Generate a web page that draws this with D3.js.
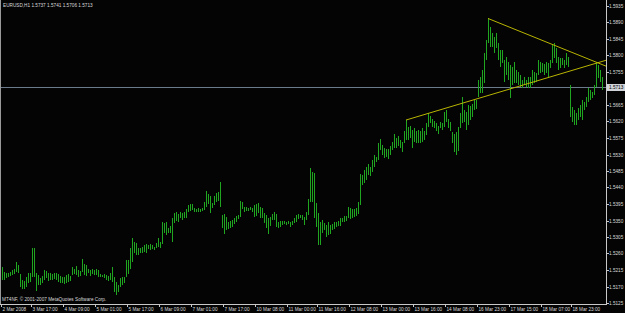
<!DOCTYPE html>
<html>
<head>
<meta charset="utf-8">
<script src="https://cdn.jsdelivr.net/npm/d3@7"></script>
<style>
  html, body { margin: 0; padding: 0; background: #000; }
  svg { display: block; }
  text { font-family: "Liberation Sans", Arial, sans-serif; font-size: 4.7px; fill: #d8d8d8; }
</style>
</head>
<body>
<div id="chart"></div>
<script>
'use strict';

// hourly bars (high / low per bar)
var barHigh = [
  1.5224,1.5210,1.5206,1.5207,1.5210,1.5215,1.5219,1.5237,1.5228,1.5204,
  1.5189,1.5185,1.5195,1.5206,1.5207,1.5274,1.5274,1.5206,1.5201,1.5192,
  1.5198,1.5215,1.5213,1.5206,1.5207,1.5204,1.5206,1.5207,1.5204,1.5198,
  1.5195,1.5196,1.5201,1.5204,1.5198,1.5224,1.5219,1.5226,1.5215,1.5213,
  1.5246,1.5231,1.5228,1.5219,1.5215,1.5219,1.5215,1.5219,1.5215,1.5204,
  1.5201,1.5204,1.5201,1.5198,1.5206,1.5224,1.5196,1.5183,1.5174,1.5192,
  1.5196,1.5196,1.5242,1.5242,1.5274,1.5301,1.5292,1.5289,1.5274,1.5274,
  1.5278,1.5283,1.5287,1.5283,1.5286,1.5283,1.5278,1.5288,1.5302,1.5291,
  1.5345,1.5342,1.5347,1.5330,1.5334,1.5358,1.5370,1.5372,1.5367,1.5374,
  1.5370,1.5374,1.5381,1.5392,1.5394,1.5394,1.5383,1.5381,1.5383,1.5381,
  1.5385,1.5401,1.5430,1.5421,1.5418,1.5399,1.5417,1.5424,1.5427,1.5454,
  1.5365,1.5367,1.5360,1.5345,1.5349,1.5351,1.5356,1.5363,1.5365,1.5403,
  1.5401,1.5387,1.5387,1.5385,1.5387,1.5385,1.5392,1.5394,1.5399,1.5387,
  1.5383,1.5370,1.5365,1.5356,1.5360,1.5367,1.5374,1.5367,1.5347,1.5349,
  1.5349,1.5349,1.5347,1.5349,1.5345,1.5349,1.5358,1.5365,1.5367,1.5365,
  1.5365,1.5360,1.5374,1.5408,1.5492,1.5483,1.5479,1.5397,1.5370,1.5347,
  1.5351,1.5342,1.5337,1.5347,1.5337,1.5340,1.5345,1.5345,1.5349,1.5356,
  1.5358,1.5363,1.5362,1.5387,1.5383,1.5381,1.5381,1.5383,1.5401,1.5476,
  1.5474,1.5488,1.5497,1.5503,1.5497,1.5515,1.5528,1.5524,1.5560,1.5572,
  1.5556,1.5549,1.5545,1.5545,1.5553,1.5565,1.5585,1.5574,1.5581,1.5570,
  1.5565,1.5594,1.5624,1.5606,1.5608,1.5597,1.5601,1.5594,1.5597,1.5594,
  1.5601,1.5594,1.5615,1.5642,1.5635,1.5628,1.5622,1.5615,1.5608,1.5619,
  1.5615,1.5646,1.5651,1.5628,1.5619,1.5592,1.5585,1.5590,1.5606,1.5642,
  1.5686,1.5651,1.5646,1.5665,1.5662,1.5669,1.5678,1.5678,1.5733,1.5742,
  1.5760,1.5806,1.5842,1.5901,1.5879,1.5860,1.5851,1.5860,1.5833,1.5815,
  1.5815,1.5788,1.5797,1.5783,1.5774,1.5769,1.5783,1.5760,1.5756,1.5747,
  1.5733,1.5742,1.5733,1.5742,1.5740,1.5760,1.5756,1.5751,1.5788,1.5783,
  1.5780,1.5776,1.5783,1.5780,1.5788,1.5829,1.5833,1.5820,1.5797,1.5792,
  1.5792,1.5788,1.5806,1.5797,1.5720,1.5660,1.5651,1.5642,1.5656,1.5665,
  1.5678,1.5674,1.5686,1.5710,1.5706,1.5701,1.5720,1.5783,1.5774,1.5760,
  1.5741
];
var barLow = [
  1.5187,1.5187,1.5192,1.5195,1.5198,1.5201,1.5204,1.5210,1.5207,1.5168,
  1.5162,1.5162,1.5168,1.5180,1.5183,1.5195,1.5197,1.5159,1.5174,1.5174,
  1.5180,1.5187,1.5192,1.5186,1.5189,1.5187,1.5191,1.5189,1.5183,1.5180,
  1.5180,1.5178,1.5180,1.5183,1.5186,1.5201,1.5204,1.5201,1.5196,1.5198,
  1.5210,1.5201,1.5198,1.5206,1.5198,1.5204,1.5200,1.5201,1.5196,1.5195,
  1.5195,1.5192,1.5189,1.5186,1.5187,1.5183,1.5156,1.5146,1.5156,1.5168,
  1.5174,1.5180,1.5196,1.5204,1.5219,1.5237,1.5260,1.5256,1.5256,1.5260,
  1.5262,1.5265,1.5262,1.5271,1.5269,1.5271,1.5269,1.5274,1.5278,1.5275,
  1.5285,1.5315,1.5310,1.5315,1.5315,1.5291,1.5342,1.5349,1.5347,1.5356,
  1.5351,1.5358,1.5356,1.5374,1.5376,1.5378,1.5374,1.5372,1.5372,1.5372,
  1.5376,1.5378,1.5387,1.5394,1.5370,1.5385,1.5392,1.5401,1.5403,1.5387,
  1.5329,1.5312,1.5324,1.5327,1.5329,1.5333,1.5340,1.5347,1.5354,1.5360,
  1.5381,1.5374,1.5376,1.5376,1.5378,1.5374,1.5360,1.5363,1.5370,1.5358,
  1.5356,1.5342,1.5329,1.5312,1.5335,1.5351,1.5351,1.5333,1.5330,1.5333,
  1.5338,1.5340,1.5337,1.5340,1.5333,1.5337,1.5342,1.5345,1.5354,1.5356,
  1.5351,1.5337,1.5351,1.5365,1.5401,1.5401,1.5356,1.5333,1.5283,1.5283,
  1.5315,1.5324,1.5305,1.5310,1.5313,1.5324,1.5327,1.5331,1.5336,1.5336,
  1.5345,1.5347,1.5349,1.5356,1.5354,1.5356,1.5360,1.5362,1.5367,1.5392,
  1.5447,1.5451,1.5460,1.5474,1.5471,1.5483,1.5497,1.5510,1.5515,1.5542,
  1.5528,1.5521,1.5524,1.5519,1.5530,1.5542,1.5547,1.5549,1.5553,1.5547,
  1.5536,1.5560,1.5569,1.5569,1.5576,1.5547,1.5565,1.5560,1.5560,1.5562,
  1.5565,1.5569,1.5583,1.5606,1.5615,1.5606,1.5601,1.5594,1.5587,1.5601,
  1.5597,1.5606,1.5619,1.5601,1.5594,1.5560,1.5538,1.5530,1.5540,1.5601,
  1.5615,1.5619,1.5597,1.5610,1.5624,1.5633,1.5651,1.5654,1.5688,1.5697,
  1.5697,1.5724,1.5788,1.5833,1.5824,1.5824,1.5806,1.5820,1.5788,1.5769,
  1.5780,1.5728,1.5747,1.5733,1.5683,1.5720,1.5724,1.5724,1.5720,1.5715,
  1.5710,1.5720,1.5715,1.5710,1.5710,1.5720,1.5726,1.5729,1.5747,1.5751,
  1.5756,1.5747,1.5751,1.5742,1.5765,1.5779,1.5792,1.5779,1.5760,1.5765,
  1.5774,1.5765,1.5774,1.5769,1.5633,1.5619,1.5610,1.5610,1.5624,1.5633,
  1.5624,1.5651,1.5660,1.5674,1.5678,1.5683,1.5692,1.5715,1.5738,1.5728,
  1.5706
];

var priceTicks = [1.5935, 1.5890, 1.5845, 1.5800, 1.5755, 1.5665, 1.5620, 1.5575, 1.5530,
  1.5485, 1.5440, 1.5395, 1.5350, 1.5305, 1.5260, 1.5215, 1.5170, 1.5125];
// bar index under each time label
var timeTickIndex = [0, 15, 31, 47, 63, 79, 95, 111, 127, 143, 158, 174, 190, 206, 222, 238, 254, 270, 285];
var timeTickLabels = ['2 Mar 2008', '3 Mar 17:00', '4 Mar 09:00', '5 Mar 01:00', '5 Mar 17:00',
  '6 Mar 09:00', '7 Mar 01:00', '7 Mar 17:00', '10 Mar 08:00', '11 Mar 00:00', '11 Mar 16:00',
  '12 Mar 08:00', '13 Mar 00:00', '13 Mar 16:00', '14 Mar 08:00', '16 Mar 23:00', '17 Mar 15:00',
  '18 Mar 07:00', '18 Mar 23:00'];
var bidPrice = 1.5713;
var headerText = 'EURUSD,H1  1.5737 1.5741 1.5706 1.5713';
var copyrightText = 'MT4NF, \u00a9 2001-2007 MetaQuotes Software Corp.';
// trend lines as [bar index, price] anchors, drawn as rays to the right
var trendRising = [[202, 1.5624], [283, 1.5756]];
var trendFalling = [[243, 1.5901], [297, 1.5782]];

var width = 625, height = 313;
var plotRight = 606, plotBottom = 304;

var svg = d3.select('#chart').append('svg')
    .attr('width', width)
    .attr('height', height)
    .style('background', '#040405');

// 2px per bar, bars on even pixel columns
var x = d3.scaleLinear().domain([0, barHigh.length - 1]).range([2, 2 + 2 * (barHigh.length - 1)]);
var y = d3.scaleLinear().domain([1.5125, 1.5935]).range([303, 6]);

svg.append('clipPath').attr('id', 'plotclip')
  .append('rect').attr('x', 0).attr('y', 0).attr('width', plotRight).attr('height', plotBottom);

var plot = svg.append('g').attr('clip-path', 'url(#plotclip)');

// left border
svg.append('line')
    .attr('x1', 0.5).attr('x2', 0.5).attr('y1', 0).attr('y2', plotBottom)
    .attr('stroke', '#9a9a9a').attr('shape-rendering', 'crispEdges');

// bid line
plot.append('line')
    .attr('x1', 0).attr('x2', plotRight)
    .attr('y1', Math.round(y(bidPrice)) + 0.5).attr('y2', Math.round(y(bidPrice)) + 0.5)
    .attr('stroke', '#6c7b8c').attr('shape-rendering', 'crispEdges');

// bars
plot.append('g')
  .selectAll('line')
  .data(barHigh)
  .join('line')
    .attr('x1', function(d, i){ return Math.round(x(i)) + 0.5; })
    .attr('x2', function(d, i){ return Math.round(x(i)) + 0.5; })
    .attr('y1', function(d){ return Math.round(y(d)); })
    .attr('y2', function(d, i){ return Math.max(Math.round(y(barLow[i])), Math.round(y(d)) + 1); })
    .attr('stroke', '#1fa51f')
    .attr('shape-rendering', 'crispEdges');

// trend lines
function ray(pts){
  var i0 = pts[0][0], p0 = pts[0][1];
  var slope = (pts[1][1] - p0) / (pts[1][0] - i0);
  var iEnd = x.invert(plotRight + 2);
  return [[x(i0), y(p0)], [x(iEnd), y(p0 + slope * (iEnd - i0))]];
}
[trendRising, trendFalling].forEach(function(pts){
  var r = ray(pts);
  plot.append('line')
      .attr('x1', r[0][0]).attr('y1', r[0][1])
      .attr('x2', r[1][0]).attr('y2', r[1][1])
      .attr('stroke', '#b8b400')
      .attr('stroke-width', 1);
});

// axes
svg.append('line')
    .attr('x1', plotRight + 0.5).attr('x2', plotRight + 0.5).attr('y1', 0).attr('y2', plotBottom + 1)
    .attr('stroke', '#c8c8c8').attr('shape-rendering', 'crispEdges');
svg.append('line')
    .attr('x1', 0).attr('x2', plotRight + 1).attr('y1', plotBottom + 0.5).attr('y2', plotBottom + 0.5)
    .attr('stroke', '#c8c8c8').attr('shape-rendering', 'crispEdges');

var yTick = svg.append('g').selectAll('g')
  .data(priceTicks)
  .join('g')
    .attr('transform', function(d){ return 'translate(0,' + (Math.round(y(d)) + 0.5) + ')'; });
yTick.append('line')
    .attr('x1', plotRight).attr('x2', plotRight + 3)
    .attr('stroke', '#c8c8c8').attr('shape-rendering', 'crispEdges');
yTick.append('text')
    .attr('x', 609).attr('dy', '0.35em')
    .text(function(d){ return d.toFixed(4); });

var xTick = svg.append('g').selectAll('g')
  .data(timeTickIndex)
  .join('g')
    .attr('transform', function(d){ return 'translate(' + (Math.round(x(d)) - 0.5) + ',0)'; });
xTick.append('line')
    .attr('y1', plotBottom).attr('y2', plotBottom + 3)
    .attr('stroke', '#c8c8c8').attr('shape-rendering', 'crispEdges');
xTick.append('text')
    .attr('x', 1).attr('y', 310.5)
    .text(function(d, i){ return timeTickLabels[i]; });

// bid price label
var by = Math.round(y(bidPrice));
svg.append('rect')
    .attr('x', plotRight + 1).attr('y', by - 3).attr('width', 18).attr('height', 7)
    .attr('fill', '#d0d4d8');
svg.append('text')
    .attr('x', 609).attr('y', by + 0.5).attr('dy', '0.35em')
    .style('fill', '#000')
    .text(bidPrice.toFixed(4));

// header and copyright
svg.append('text').attr('x', 3).attr('y', 7).text(headerText);
svg.append('text').attr('x', 2).attr('y', 301).text(copyrightText);
</script>
</body>
</html>
